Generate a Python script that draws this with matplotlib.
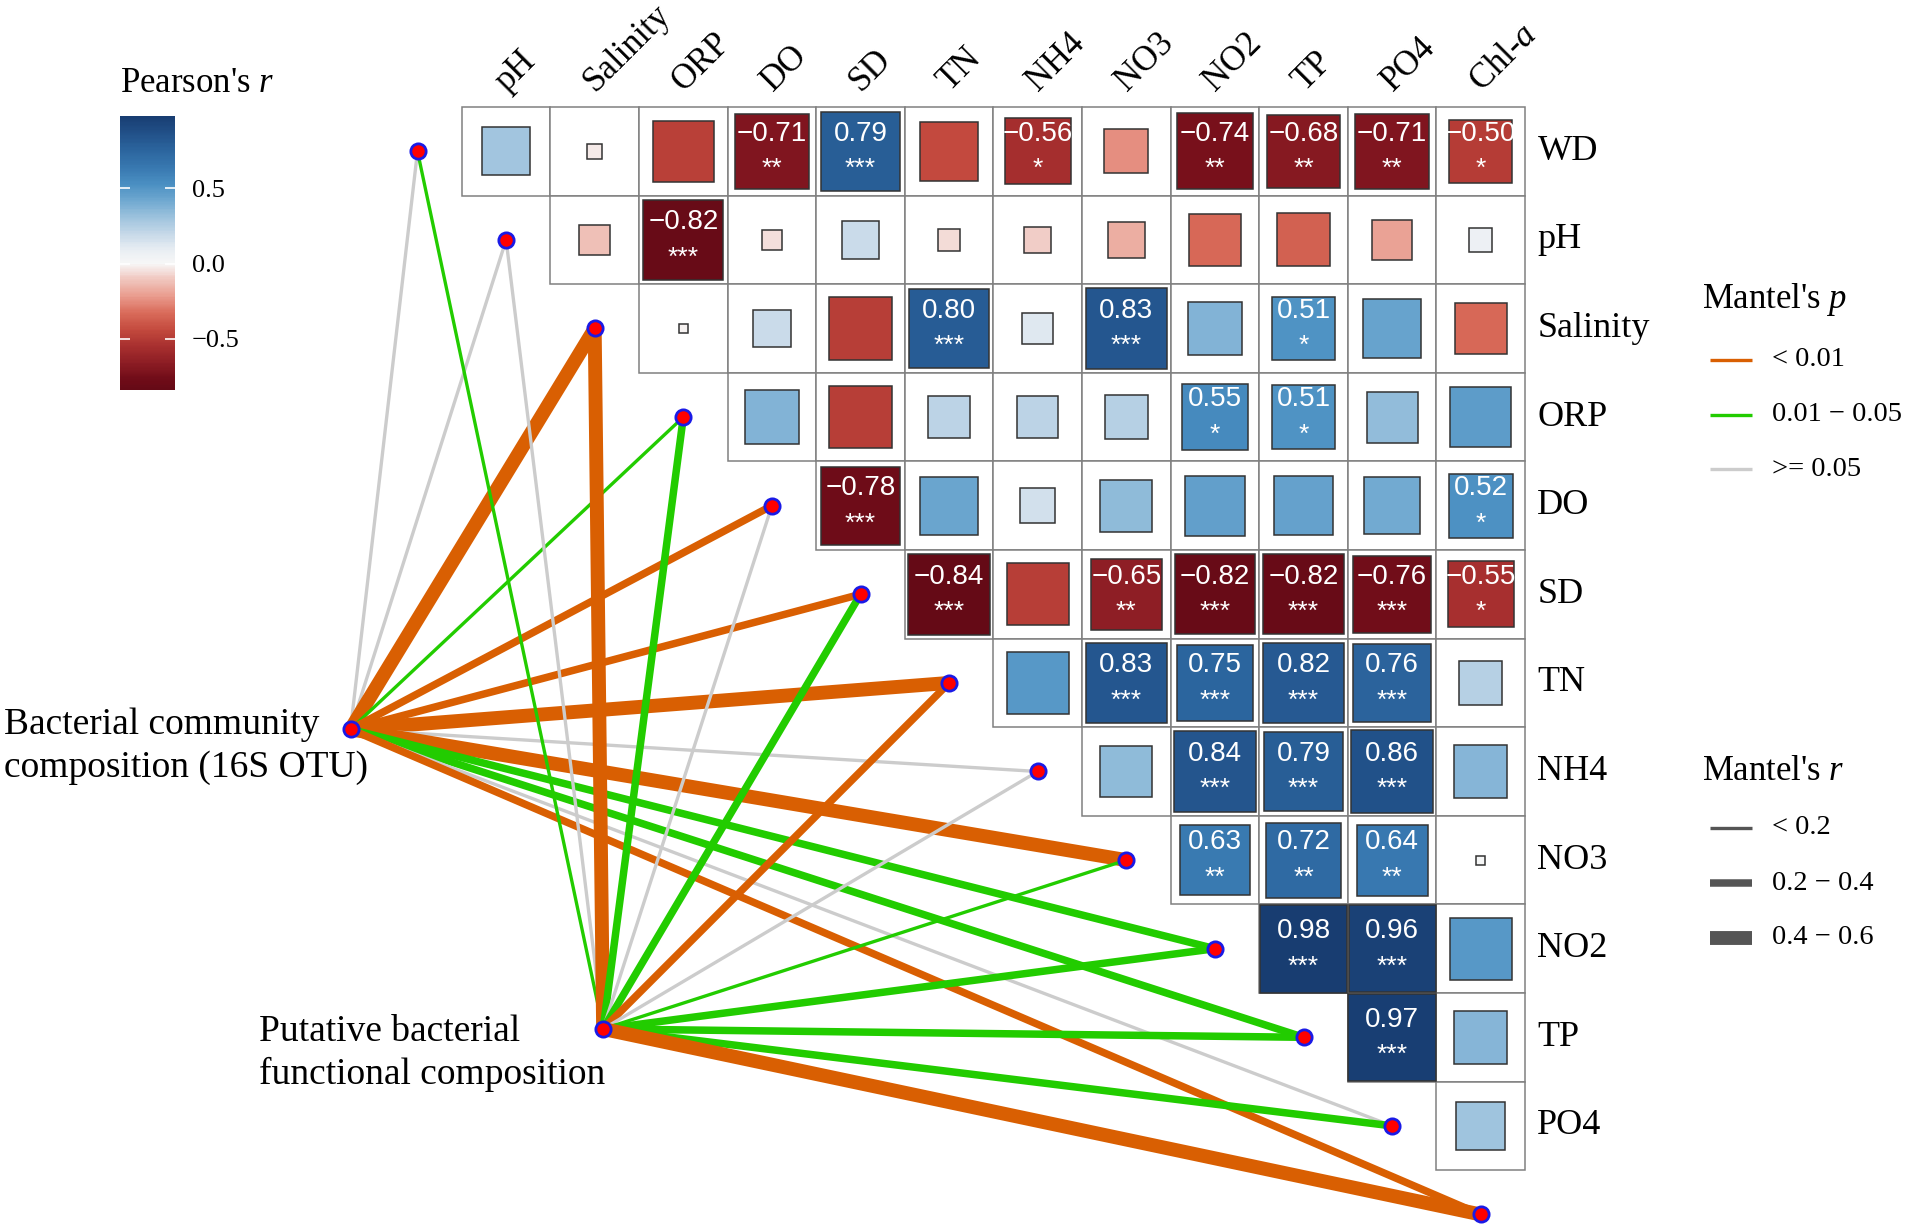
import numpy as np
import matplotlib
matplotlib.use("Agg")
import matplotlib.pyplot as plt
from matplotlib.patches import Rectangle
from matplotlib.lines import Line2D
from matplotlib.colors import LinearSegmentedColormap, Normalize
from matplotlib.cm import ScalarMappable

plt.rcParams['mathtext.fontset'] = 'custom'
plt.rcParams['mathtext.rm'] = 'Liberation Serif'
plt.rcParams['mathtext.it'] = 'Liberation Serif:italic'

SERIF = 'Liberation Serif'
SANS = 'Liberation Sans'

# ---- data -------------------------------------------------------------
env_vars = ["WD", "pH", "Salinity", "ORP", "DO", "SD", "TN", "NH4",
            "NO3", "NO2", "TP", "PO4", "Chl-a"]
row_labels = env_vars[:-1]
col_labels = ["pH", "Salinity", "ORP", "DO", "SD", "TN", "NH4", "NO3",
              "NO2", "TP", "PO4", "Chl-$\\mathit{a}$"]

# Pearson's r, upper triangle: row i holds columns i..11
pearson_r = [
    [0.29, -0.03, -0.48, -0.71, 0.79, -0.44, -0.56, -0.25, -0.74, -0.68, -0.71, -0.50],
    [-0.12, -0.82, -0.05, 0.18, -0.06, -0.09, -0.17, -0.34, -0.36, -0.20, 0.07],
    [-0.01, 0.18, -0.49, 0.80, 0.12, 0.83, 0.37, 0.51, 0.44, -0.34],
    [0.37, -0.49, 0.22, 0.22, 0.24, 0.55, 0.51, 0.33, 0.47],
    [-0.78, 0.43, 0.16, 0.34, 0.46, 0.45, 0.41, 0.52],
    [-0.84, -0.49, -0.65, -0.82, -0.82, -0.76, -0.55],
    [0.49, 0.83, 0.75, 0.82, 0.76, 0.24],
    [0.34, 0.84, 0.79, 0.86, 0.36],
    [0.63, 0.72, 0.64, 0.01],
    [0.98, 0.96, 0.49],
    [0.97, 0.36],
    [0.30],
]
pearson_sig = [
    ["", "", "", "**", "***", "", "*", "", "**", "**", "**", "*"],
    ["", "***", "", "", "", "", "", "", "", "", ""],
    ["", "", "", "***", "", "***", "", "*", "", ""],
    ["", "", "", "", "", "*", "*", "", ""],
    ["***", "", "", "", "", "", "", "*"],
    ["***", "", "**", "***", "***", "***", "*"],
    ["", "***", "***", "***", "***", ""],
    ["", "***", "***", "***", ""],
    ["**", "**", "**", ""],
    ["***", "***", ""],
    ["***", ""],
    [""],
]

spec_labels = ["Bacterial community\ncomposition (16S OTU)",
               "Putative bacterial\nfunctional composition"]
# Mantel r / p of each community matrix against each environmental variable
mantel_r_16s = [0.12, 0.10, 0.48, 0.15, 0.30, 0.32, 0.50, 0.12, 0.45, 0.28, 0.26, 0.14, 0.33]
mantel_p_16s = [0.21, 0.35, 0.001, 0.03, 0.004, 0.002, 0.001, 0.12, 0.001, 0.02, 0.03, 0.09, 0.005]
mantel_r_fun = [0.15, 0.08, 0.47, 0.25, 0.11, 0.27, 0.31, 0.09, 0.18, 0.29, 0.27, 0.26, 0.44]
mantel_p_fun = [0.04, 0.28, 0.001, 0.02, 0.14, 0.02, 0.006, 0.31, 0.04, 0.02, 0.03, 0.03, 0.002]

p_breaks = [0.01, 0.05]
p_labels = ["< 0.01", "0.01 \u2212 0.05", ">= 0.05"]
r_breaks = [0.2, 0.4]
r_labels = ["< 0.2", "0.2 \u2212 0.4", "0.4 \u2212 0.6"]

# ---- style ------------------------------------------------------------
p_colors = ["#D95F02", "#22CC00", "#CCCCCC"]
r_widths = [2.4, 5.4, 10.0]
cmap_anchors = [(-1.0, '#5a0012'), (-0.84, '#650a16'), (-0.77, '#700c18'),
                (-0.66, '#8d1d24'), (-0.55, '#a8302f'), (-0.44, '#c44a3e'),
                (-0.33, '#d96b5a'), (-0.22, '#e99a8c'), (-0.11, '#f0c4bc'),
                (0.0, '#f7f7f7'), (0.09, '#e9eef3'), (0.2, '#c5d8e8'),
                (0.31, '#9cc2dd'), (0.42, '#6fa8d0'), (0.53, '#4a8fc2'),
                (0.64, '#3878b0'), (0.75, '#2c669f'), (0.86, '#22528a'),
                (0.97, '#193f74'), (1.0, '#163b6e')]
cmap = LinearSegmentedColormap.from_list(
    "pearson", [((v + 1) / 2, c) for v, c in cmap_anchors])
norm = Normalize(-1, 1)

W, H = 1908, 1228
CELL = 88.6          # px per matrix cell
X0, Y0 = 461.8, 107  # px of matrix top-left corner

fig = plt.figure(figsize=(W / 100, H / 100), dpi=100)
ax = fig.add_axes([0, 0, 1, 1])
left = -0.5 - X0 / CELL
top = -0.5 - Y0 / CELL
ax.set_xlim(left, left + W / CELL)
ax.set_ylim(top + H / CELL, top)
ax.axis('off')

n = len(row_labels)

# ---- correlation matrix ----------------------------------------------
for i in range(n):
    for k, r in enumerate(pearson_r[i]):
        j = i + k
        ax.add_patch(Rectangle((j - 0.5, i - 0.5), 1, 1, facecolor='white',
                               edgecolor='#808080', lw=1.1, zorder=1))
        side = np.sqrt(abs(r))
        sq = Rectangle((j - side / 2, i - side / 2), side, side,
                       facecolor=cmap(norm(r)), edgecolor='#333333',
                       lw=1.1, zorder=3)
        ax.add_patch(sq)
        sig = pearson_sig[i][k]
        if sig:
            t1 = ax.text(j, i - 0.2, f"{r:.2f}".replace("-", "\u2212"),
                         ha='center', va='center', color='white',
                         fontsize=20, family=SANS, zorder=4)
            t2 = ax.text(j, i + 0.2, sig, ha='center', va='center',
                         color='white', fontsize=19, family=SANS, zorder=4)
            t1.set_clip_path(sq)
            t2.set_clip_path(sq)

for j, lab in enumerate(col_labels):
    ax.text(j + 0.07, -0.6, lab, rotation=45, rotation_mode='anchor',
            ha='left', va='bottom', fontsize=25, family=SERIF)

for i, lab in enumerate(row_labels):
    ax.text(n - 0.5 + 0.14, i, lab, ha='left', va='center',
            fontsize=26, family=SERIF)

# ---- Mantel links -----------------------------------------------------
env_x = [k - 1 for k in range(len(env_vars))]
env_y = [k for k in range(len(env_vars))]
spec_x = [-1.756, 1.095]
spec_y = [6.524, 9.906]
spec_text_xy = [(-5.67, 6.72), (-2.79, 10.18)]

for s, (mr, mp) in enumerate([(mantel_r_16s, mantel_p_16s),
                               (mantel_r_fun, mantel_p_fun)]):
    for k in range(len(env_vars)):
        pc = int(np.digitize(mp[k], p_breaks))
        rc = int(np.digitize(mr[k], r_breaks))
        ax.plot([spec_x[s], env_x[k]], [spec_y[s], env_y[k]],
                color=p_colors[pc], lw=r_widths[rc],
                solid_capstyle='butt', zorder=2)

ax.scatter(env_x + spec_x, env_y + spec_y, s=11 ** 2, c='#ff0000',
           edgecolors='#1a1ae6', linewidths=2.0, zorder=6)

for (tx, ty), lab in zip(spec_text_xy, spec_labels):
    ax.text(tx, ty, lab, ha='left', va='center', fontsize=27,
            family=SERIF, linespacing=1.32)

# ---- colour bar -------------------------------------------------------
all_r = np.concatenate([np.array(row) for row in pearson_r])
cax = fig.add_axes([120 / W, 1 - 390 / H, 55 / W, 274 / H])
cb = fig.colorbar(ScalarMappable(norm=norm, cmap=cmap), cax=cax,
                  boundaries=np.linspace(all_r.min(), all_r.max(), 300),
                  ticks=[-0.5, 0.0, 0.5])
cb.outline.set_visible(False)
cb.set_ticklabels([f"{t:.1f}".replace("-", "\u2212") for t in [-0.5, 0.0, 0.5]])
cax.tick_params(direction='in', length=7, width=1.2, color='white',
                left=True, right=True, labelleft=False, labelright=True,
                labelsize=19, pad=12)
for tl in cax.get_yticklabels():
    tl.set_family(SERIF)
fig.text(120 / W, 1 - 83 / H, "Pearson's $\\mathit{r}$", fontsize=25,
         family=SERIF, ha='left', va='center')

# ---- legends (drawn in figure pixels) ---------------------------------
def legend_block(title, labels, colors, widths, title_y, first_y, step):
    fig.text(1702 / W, 1 - title_y / H, title, fontsize=25, family=SERIF,
             ha='left', va='center')
    for k, lab in enumerate(labels):
        y = 1 - (first_y + k * step) / H
        fig.add_artist(Line2D([1710 / W, 1752 / W], [y, y], color=colors[k],
                              lw=widths[k], solid_capstyle='butt',
                              transform=fig.transFigure))
        fig.text(1772 / W, y, lab, fontsize=20.5, family=SERIF,
                 ha='left', va='center')

legend_block("Mantel's $\\mathit{p}$", p_labels, p_colors, [2.4] * 3,
             300, 360, 54.5)
legend_block("Mantel's $\\mathit{r}$", r_labels, ['#555555'] * 3, r_widths,
             771, 828, 55)

fig.savefig("out.png", dpi=100, facecolor='white')
